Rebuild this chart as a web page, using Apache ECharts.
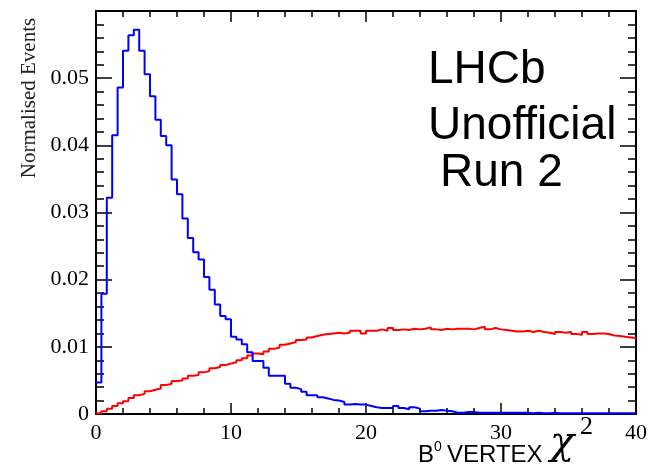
<!DOCTYPE html>
<html>
<head>
<meta charset="utf-8">
<script src="https://cdn.jsdelivr.net/npm/echarts@6/dist/echarts.min.js"></script>
<style>
html,body{margin:0;padding:0;background:#fff;}
#chart{width:650px;height:468px;}
</style>
</head>
<body>
<div id="chart"></div>
<script>
// Histogram: 100 bins of width 0.4 from 0 to 40
const binWidth = 0.4;
const xTickLabels = ['0', '10', '20', '30', '40'];
const yTickLabels = ['0', '0.01', '0.02', '0.03', '0.04', '0.05'];

// Blue series
const blueValues = [
  0.0047, 0.0179, 0.0322, 0.0415, 0.0486, 0.0541, 0.0564, 0.0572, 0.0541, 0.0506,
  0.0473, 0.0438, 0.0414, 0.0400, 0.0349, 0.0327, 0.0291, 0.0262, 0.0241, 0.0230,
  0.0204, 0.0185, 0.0163, 0.0146, 0.0141, 0.0115, 0.0111, 0.0104, 0.0092, 0.0079,
  0.0079, 0.0069, 0.0057, 0.0057, 0.0057, 0.0045, 0.0039, 0.0037, 0.0033, 0.0028,
  0.0028, 0.0025, 0.0023, 0.0021, 0.0020, 0.0018, 0.0014, 0.0015, 0.0014, 0.0014,
  0.0012, 0.0010, 0.0009, 0.0009, 0.0009, 0.0012, 0.0009, 0.0007, 0.0010, 0.0008,
  0.0004, 0.0005, 0.0005, 0.0006, 0.0005, 0.0004, 0.0002, 0.0002, 0.0003, 0.0003,
  0.0002, 0.0002, 0.0002, 0.0002, 0.0002, 0.0002, 0.0002, 0.0002, 0.0002, 0.0002,
  0.0001, 0.0002, 0.0001, 0.0001, 0.0002, 0.0001, 0.0001, 0.0001, 0.0001, 0.0001,
  0.0001, 0.0001, 0.0001, 0.0001, 0.0001, 0.0001, 0.0001, 0.0001, 0.0001, 0.0001
];

// Red series
const redValues = [
  0.0001, 0.0004, 0.0008, 0.0012, 0.0016, 0.0019, 0.0024, 0.0028, 0.0030, 0.0034,
  0.0036, 0.0038, 0.0043, 0.0045, 0.0049, 0.0050, 0.0053, 0.0057, 0.0058, 0.0062,
  0.0064, 0.0068, 0.0070, 0.0073, 0.0075, 0.0077, 0.0080, 0.0083, 0.0087, 0.0090,
  0.0089, 0.0093, 0.0097, 0.0099, 0.0103, 0.0105, 0.0107, 0.0110, 0.0111, 0.0114,
  0.0116, 0.0118, 0.0119, 0.0120, 0.0121, 0.0120, 0.0121, 0.0124, 0.0124, 0.0120,
  0.0124, 0.0124, 0.0126, 0.0124, 0.0128, 0.0125, 0.0126, 0.0125, 0.0127, 0.0126,
  0.0127, 0.0129, 0.0126, 0.0125, 0.0127, 0.0126, 0.0127, 0.0127, 0.0127, 0.0126,
  0.0128, 0.0130, 0.0126, 0.0128, 0.0126, 0.0125, 0.0124, 0.0123, 0.0123, 0.0124,
  0.0122, 0.0124, 0.0122, 0.0121, 0.0119, 0.0122, 0.0121, 0.0122, 0.0119, 0.0118,
  0.0122, 0.0119, 0.0120, 0.0120, 0.0119, 0.0117, 0.0116, 0.0115, 0.0114, 0.0113
];

function toSteps(vals) {
  const pts = vals.map((v, i) => [+(i * binWidth).toFixed(2), v]);
  pts.push([+(vals.length * binWidth).toFixed(2), vals[vals.length - 1]]);
  return pts;
}

const chart = echarts.init(document.getElementById('chart'), null, {renderer: 'canvas'});
const serif = '"Liberation Serif", "DejaVu Serif", serif';
const sans = '"Liberation Sans", Arial, sans-serif';

function xAxisDef(pos, showLabel) {
  return {
    type: 'value', min: 0, max: 40, interval: 10, position: pos,
    splitLine: {show: false},
    axisLine: {show: true, onZero: false, lineStyle: {color: '#000', width: 2}},
    axisTick: {show: true, inside: true, length: 11, lineStyle: {color: '#000', width: 1.5}},
    minorTick: {show: true, splitNumber: 5, length: 6, lineStyle: {color: '#000', width: 1.5}},
    minorSplitLine: {show: false},
    axisLabel: showLabel ? {show: true, color: '#000', fontFamily: serif, fontSize: 22, margin: 8,
      formatter: (v) => xTickLabels[Math.round(v / 10)]} : {show: false}
  };
}
function yAxisDef(pos, showLabel) {
  return {
    type: 'value', min: 0, max: 0.06, interval: 0.01, position: pos,
    splitLine: {show: false},
    axisLine: {show: true, onZero: false, lineStyle: {color: '#000', width: 2}},
    axisTick: {show: true, inside: true, length: 16, lineStyle: {color: '#000', width: 1.5}},
    minorTick: {show: true, splitNumber: 5, length: 8, lineStyle: {color: '#000', width: 1.5}},
    minorSplitLine: {show: false},
    axisLabel: showLabel ? {show: true, color: '#000', fontFamily: serif, fontSize: 22, margin: 7,
      showMaxLabel: false,
      formatter: (v) => { const i = Math.round(v * 100); return i < yTickLabels.length ? yTickLabels[i] : ''; }} : {show: false}
  };
}

chart.setOption({
  animation: false,
  backgroundColor: '#fff',
  grid: {left: 96, right: 13, top: 11, bottom: 54, containLabel: false},
  xAxis: [xAxisDef('bottom', true), xAxisDef('top', false)],
  yAxis: [yAxisDef('left', true), yAxisDef('right', false)],
  series: [
    {
      type: 'line', name: 'red', xAxisIndex: 0, yAxisIndex: 0,
      data: toSteps(redValues), step: 'end', showSymbol: false, symbol: 'none',
      lineStyle: {color: '#ff0000', width: 2}, z: 3
    },
    {
      type: 'line', name: 'blue', xAxisIndex: 0, yAxisIndex: 0,
      data: toSteps(blueValues), step: 'end', showSymbol: false, symbol: 'none',
      lineStyle: {color: '#0000ff', width: 2}, z: 4
    }
  ],
  graphic: [
    {type: 'text', x: 29, y: 98, rotation: Math.PI / 2,
      style: {text: 'Normalised Events', font: '21px ' + serif, fill: '#222', textAlign: 'center', textVerticalAlign: 'middle'}},
    {type: 'text', left: 428, top: 47,
      style: {text: 'LHCb', font: '46px ' + sans, fill: '#000'}},
    {type: 'text', left: 428, top: 103,
      style: {text: 'Unofficial', font: '46px ' + sans, fill: '#000'}},
    {type: 'text', left: 440, top: 150,
      style: {text: 'Run 2', font: '46px ' + sans, fill: '#000'}},
    {type: 'text', left: 418, top: 443,
      style: {text: 'B', font: '24px ' + sans, fill: '#000'}},
    {type: 'text', left: 434, top: 440,
      style: {text: '0', font: '14px ' + sans, fill: '#000'}},
    {type: 'text', left: 447, top: 443,
      style: {text: 'VERTEX', font: '24px ' + sans, fill: '#000'}},
    {type: 'text', left: 550, top: 424,
      style: {text: 'χ', font: 'italic 40px "DejaVu Serif", serif', fill: '#000'}},
    {type: 'text', left: 580, top: 414,
      style: {text: '2', font: '26px ' + serif, fill: '#000'}}
  ]
});
</script>
</body>
</html>
